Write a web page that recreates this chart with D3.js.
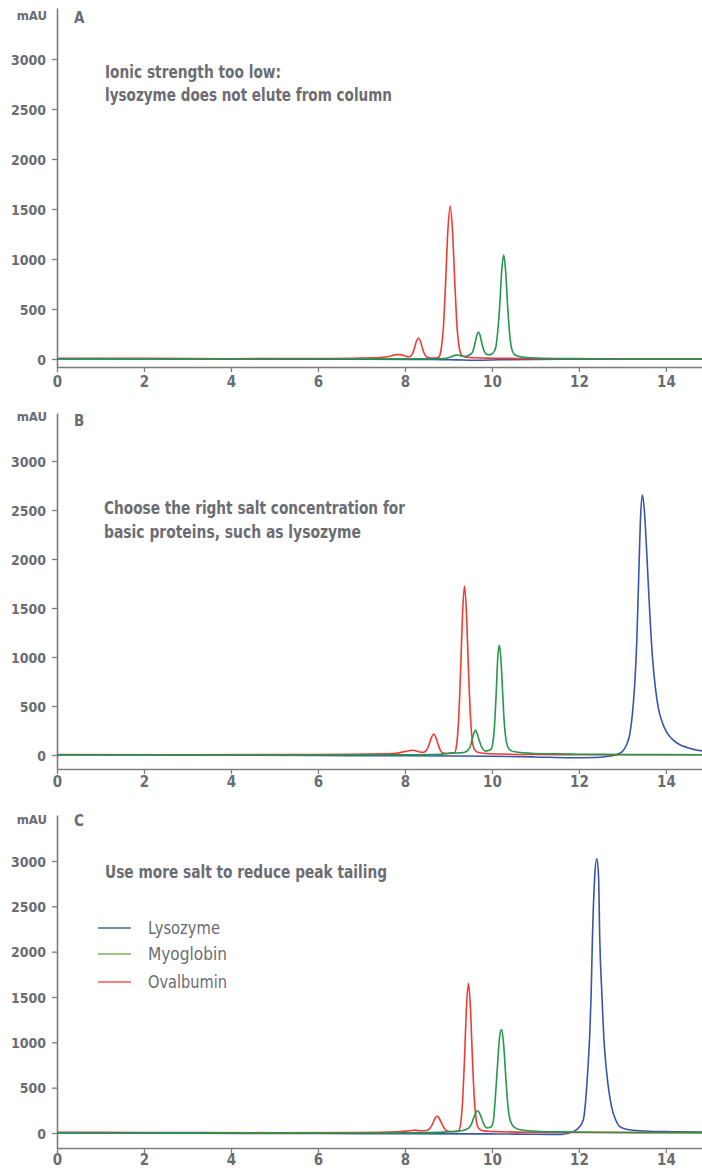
<!DOCTYPE html>
<html><head><meta charset="utf-8">
<script src="https://cdn.jsdelivr.net/npm/d3@7/dist/d3.min.js"></script>
<style>
html,body{margin:0;padding:0;background:#fff;}
svg{display:block;}
</style></head><body>
<svg id="chart" width="702" height="1169"></svg>
<script>
// ---------- data ----------
const proteins = ["Lysozyme", "Myoglobin", "Ovalbumin"];
const panelNames = ["A", "B", "C"];
const xTickValues = [0, 2, 4, 6, 8, 10, 12, 14];
const yTickValues = [0, 500, 1000, 1500, 2000, 2500, 3000];
const yUnit = "mAU";
const notesA = ["Ionic strength too low:", "lysozyme does not elute from column"];
const notesB = ["Choose the right salt concentration for", "basic proteins, such as lysozyme"];
const notesC = ["Use more salt to reduce peak tailing"];

// [time (min), absorbance (mAU)]
const lysozymeA = [[0,0],[4,-1],[7,-3],[8.6,-5],[9.2,-9],[9.6,-12],[10.2,-8],[11,-4],[12,-2],[14.85,-2]];
const myoglobinA = [[0,2],[2,1],[4,0],[6,0],[8,1],[8.9,5],[9.05,20],[9.15,36],[9.22,40],[9.3,30],[9.4,28],[9.5,45],[9.54,60],[9.58,100],[9.62,175],[9.655,240],[9.69,270],[9.725,240],[9.76,175],[9.8,105],[9.85,58],[9.92,42],[10.0,50],[10.05,75],[10.09,120],[10.13,260],[10.18,540],[10.225,880],[10.27,1040],[10.315,880],[10.36,540],[10.405,260],[10.45,110],[10.5,55],[10.57,32],[10.7,20],[11,10],[11.5,5],[12.5,3],[14.85,2]];
const ovalbuminA = [[0,8],[2,6],[4,3],[6,5],[7,10],[7.5,18],[7.7,32],[7.8,44],[7.9,44],[8.0,30],[8.08,22],[8.12,26],[8.17,50],[8.22,110],[8.265,180],[8.31,210],[8.355,180],[8.4,110],[8.45,50],[8.5,20],[8.6,10],[8.7,10],[8.78,20],[8.83,90],[8.885,320],[8.935,765],[8.988,1290],[9.04,1530],[9.092,1290],[9.145,780],[9.195,340],[9.25,110],[9.305,38],[9.4,18],[9.6,12],[10,8],[11,4],[12,2],[14.85,1]];

const lysozymeB = [[0,0],[4,-2],[6,-5],[8,-8],[10,-12],[11,-20],[11.8,-28],[12.4,-25],[12.71,-10],[12.9,10],[13.01,40],[13.1,110],[13.17,214],[13.23,420],[13.28,700],[13.33,1150],[13.38,1900],[13.42,2450],[13.46,2653],[13.5,2520],[13.55,2150],[13.6,1700],[13.65,1280],[13.7,950],[13.76,680],[13.83,470],[13.92,330],[14.02,230],[14.15,160],[14.3,110],[14.5,75],[14.85,40]];
const myoglobinB = [[0,3],[2,2],[4,0],[6,0],[8,3],[8.8,8],[9.0,18],[9.1,22],[9.2,20],[9.35,25],[9.45,50],[9.5,85],[9.54,150],[9.58,215],[9.62,255],[9.66,220],[9.7,160],[9.75,95],[9.8,55],[9.85,40],[9.92,45],[9.98,60],[10.02,120],[10.06,300],[10.1,650],[10.135,1000],[10.17,1120],[10.205,990],[10.245,650],[10.285,320],[10.33,140],[10.38,70],[10.45,42],[10.6,28],[10.9,18],[11.4,12],[12,8],[13,5],[14.85,3]];
const ovalbuminB = [[0,5],[3,3],[6,5],[7.5,12],[7.8,18],[8.0,35],[8.12,46],[8.2,48],[8.3,36],[8.4,28],[8.46,34],[8.51,60],[8.56,115],[8.61,180],[8.66,214],[8.71,180],[8.76,112],[8.81,52],[8.86,24],[8.95,16],[9.05,16],[9.14,22],[9.19,110],[9.235,370],[9.28,862],[9.325,1450],[9.37,1724],[9.415,1450],[9.46,880],[9.505,400],[9.55,145],[9.6,55],[9.67,28],[9.8,18],[10.2,10],[11,5],[12,3],[14.85,2]];

const lysozymeC = [[0,0],[3,-3],[6,-5],[8,-8],[10,-10],[11,-14],[11.6,-15],[11.87,15],[12.0,60],[12.1,143],[12.15,330],[12.2,660],[12.25,1100],[12.28,1510],[12.31,2128],[12.36,2800],[12.41,3023],[12.45,2850],[12.48,2128],[12.53,1510],[12.58,1000],[12.64,660],[12.75,290],[12.85,140],[12.94,70],[13.1,42],[13.4,25],[14,15],[14.85,10]];
const myoglobinC = [[0,3],[2,2],[3.4,1],[5,0],[7,0],[8.5,4],[9.0,12],[9.2,18],[9.35,30],[9.45,50],[9.52,90],[9.58,165],[9.63,225],[9.67,245],[9.71,225],[9.76,165],[9.81,100],[9.86,62],[9.9,55],[9.95,62],[10.0,80],[10.04,160],[10.08,400],[10.13,760],[10.175,1050],[10.22,1140],[10.265,1000],[10.31,680],[10.355,370],[10.4,180],[10.46,95],[10.53,58],[10.65,35],[11,20],[11.5,12],[12.5,8],[14,5],[14.85,4]];
const ovalbuminC = [[0,8],[2,6],[3.4,5],[5,3],[7,5],[7.8,12],[8.1,25],[8.24,32],[8.35,25],[8.5,28],[8.58,55],[8.64,105],[8.69,160],[8.74,188],[8.79,160],[8.85,100],[8.91,48],[8.98,22],[9.08,16],[9.18,18],[9.23,22],[9.28,100],[9.325,350],[9.37,825],[9.415,1390],[9.46,1650],[9.505,1390],[9.55,840],[9.595,380],[9.64,140],[9.69,55],[9.77,28],[9.9,20],[10.2,14],[11,8],[12,5],[14.85,3]];

// ---------- style / layout ----------
const seriesColor = {Lysozyme: "#3a55a6", Myoglobin: "#25974c", Ovalbumin: "#ef3c33"};
const legendColor = {Lysozyme: "#4b5fa8", Myoglobin: "#79b453", Ovalbumin: "#f15b4b"};
const textColor = "#6b6d72";
const axisColor = "#7d7d7d";
const fontNarrow = "'Liberation Sans Narrow','Arial Narrow','DejaVu Sans Condensed',sans-serif";

const panels = [
  {name: panelNames[0], series: [lysozymeA, myoglobinA, ovalbuminA], notes: notesA,
   top: 8, zero: 359, y3000: 59, bottom: 367, xLab: 20,
   letterY: 23, unitY: 20, noteX: 105, noteY: [78, 101], noteW: [176, 287]},
  {name: panelNames[1], series: [lysozymeB, myoglobinB, ovalbuminB], notes: notesB,
   top: 413, zero: 755, y3000: 461, bottom: 769, xLab: 18,
   letterY: 426, unitY: 421, noteX: 104, noteY: [514, 538], noteW: [301, 257]},
  {name: panelNames[2], series: [lysozymeC, myoglobinC, ovalbuminC], notes: notesC,
   top: 815, zero: 1133, y3000: 861, bottom: 1148, xLab: 17,
   letterY: 826, unitY: 824, noteX: 105, noteY: [878], noteW: [282], legend: true}
];

const svg = d3.select("#chart");
const x = d3.scaleLinear().domain([0, 14.83]).range([57, 702]);
const drawOrder = [0, 2, 1]; // lysozyme, ovalbumin, myoglobin on top

panels.forEach(p => {
  const y0 = d3.scaleLinear().domain([0, 3000]).range([p.zero, p.y3000]);
  const y = d3.scaleLinear().domain([y0.invert(p.bottom), y0.invert(p.top)]).range([p.bottom, p.top]);
  const g = svg.append("g");

  // y axis
  const ya = g.append("g").attr("transform", `translate(${x(0)},0)`)
    .call(d3.axisLeft(y).tickValues(yTickValues).tickSize(5).tickSizeOuter(0).tickFormat(d3.format("d")));
  ya.select(".domain").attr("stroke", axisColor).attr("stroke-width", 1.6);
  ya.selectAll(".tick line").attr("stroke", axisColor).attr("stroke-width", 1.3);
  ya.selectAll(".tick text").attr("x", -11).attr("dy", 5).attr("fill", textColor)
    .style("font-family", fontNarrow).style("font-size", "14px").style("font-weight", "bold");

  // x axis
  const xa = g.append("g").attr("transform", `translate(0,${p.bottom})`)
    .call(d3.axisBottom(x).tickValues(xTickValues).tickSize(5).tickSizeOuter(0));
  xa.select(".domain").attr("stroke", axisColor).attr("stroke-width", 1.6);
  xa.selectAll(".tick line").attr("stroke", axisColor).attr("stroke-width", 1.3);
  xa.selectAll(".tick text").attr("y", p.xLab).attr("dy", 0).attr("fill", textColor)
    .style("font-family", fontNarrow).style("font-size", "15px").style("font-weight", "bold");

  // unit + panel letter
  g.append("text").attr("x", 47).attr("y", p.unitY).attr("text-anchor", "end")
    .attr("fill", textColor).style("font-family", fontNarrow).style("font-size", "13px").style("font-weight", "bold")
    .text(yUnit);
  g.append("text").attr("x", 74).attr("y", p.letterY)
    .attr("fill", textColor).style("font-family", fontNarrow).style("font-size", "15px").style("font-weight", "bold")
    .text(p.name);

  // notes
  p.notes.forEach((t, i) => {
    g.append("text").attr("x", p.noteX).attr("y", p.noteY[i])
      .attr("fill", textColor).style("font-family", fontNarrow).style("font-size", "17px").style("font-weight", "bold")
      .attr("textLength", p.noteW[i]).attr("lengthAdjust", "spacingAndGlyphs")
      .text(t);
  });

  // lines
  const line = d3.line().x(d => x(d[0])).y(d => y(d[1])).curve(d3.curveMonotoneX);
  drawOrder.forEach(k => {
    g.append("path").datum(p.series[k])
      .attr("fill", "none").attr("stroke", seriesColor[proteins[k]])
      .attr("stroke-width", 1.6).attr("stroke-linejoin", "round")
      .attr("d", line);
  });

  // legend
  if (p.legend) {
    const ly = [928, 954, 982];
    const lw = [72, 79, 79];
    proteins.forEach((name, i) => {
      g.append("line").attr("x1", 98).attr("x2", 131).attr("y1", ly[i]).attr("y2", ly[i])
        .attr("stroke", legendColor[name]).attr("stroke-width", 1.6);
      g.append("text").attr("x", 148).attr("y", ly[i] + 6)
        .attr("fill", textColor).style("font-family", fontNarrow).style("font-size", "17px")
        .attr("textLength", lw[i]).attr("lengthAdjust", "spacingAndGlyphs")
        .text(name);
    });
  }
});
</script>
</body></html>
